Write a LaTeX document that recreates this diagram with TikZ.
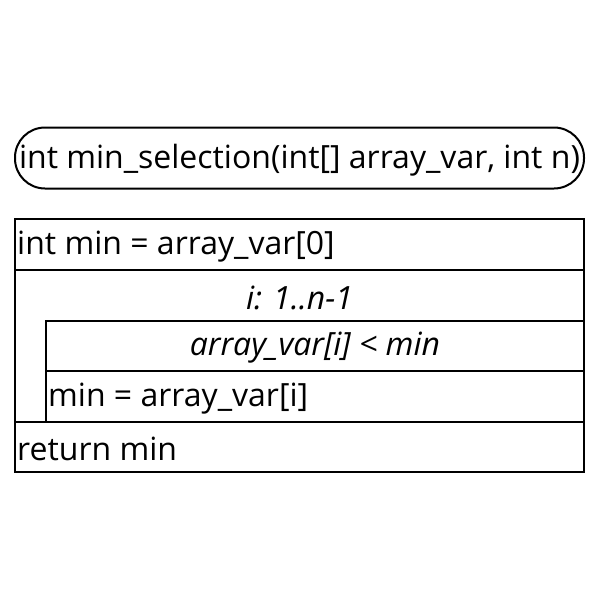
\documentclass[tikz,border=0pt]{standalone}
\usepackage{fontspec}
\setmainfont{Open Sans}
\usetikzlibrary{positioning}
\begin{document}
\begin{tikzpicture}[x=1pt,y=-1pt,
  cell/.style={draw,line width=2pt,inner sep=0pt,outer sep=0pt,anchor=north west},
  txt/.style={inner sep=0pt,font=\fontsize{32}{34}\selectfont},
  term/.style={draw,line width=2pt,rounded corners=30pt,minimum width=569pt,minimum height=61pt,inner sep=0pt,font=\fontsize{32}{34}\selectfont}]
\useasboundingbox (0,0) rectangle (600,600);
\node[term] (start) at (299.5,158) {};
\node[txt] (tstart) at (299.5,160) {int min\_selection(int[] array\_var, int n)};
\node[cell,minimum width=569pt,minimum height=51pt] (init) at (15,219) {};
\node[cell,minimum width=569pt,minimum height=152pt] (loop) at (15,270) {};
\node[cell,minimum width=538pt,minimum height=50pt] (cond) at (46,321) {};
\node[cell,minimum width=538pt,minimum height=51pt] (body) at (46,371) {};
\node[cell,minimum width=569pt,minimum height=50pt] (ret) at (15,422) {};
\node[txt,anchor=west] (tinit) at ([xshift=2pt,yshift=-2pt]init.west) {int min = array\_var[0]};
\node[txt] (tloop) at (299.5,298) {\itshape i: 1..n-1};
\node[txt] (tcond) at ([yshift=-2pt]cond.center) {\itshape array\_var[i] < min};
\node[txt,anchor=west] (tbody) at ([xshift=2pt,yshift=-2pt]body.west) {min = array\_var[i]};
\node[txt,anchor=west] (tret) at ([xshift=2pt,yshift=-2pt]ret.west) {return min};
\end{tikzpicture}
\end{document}
